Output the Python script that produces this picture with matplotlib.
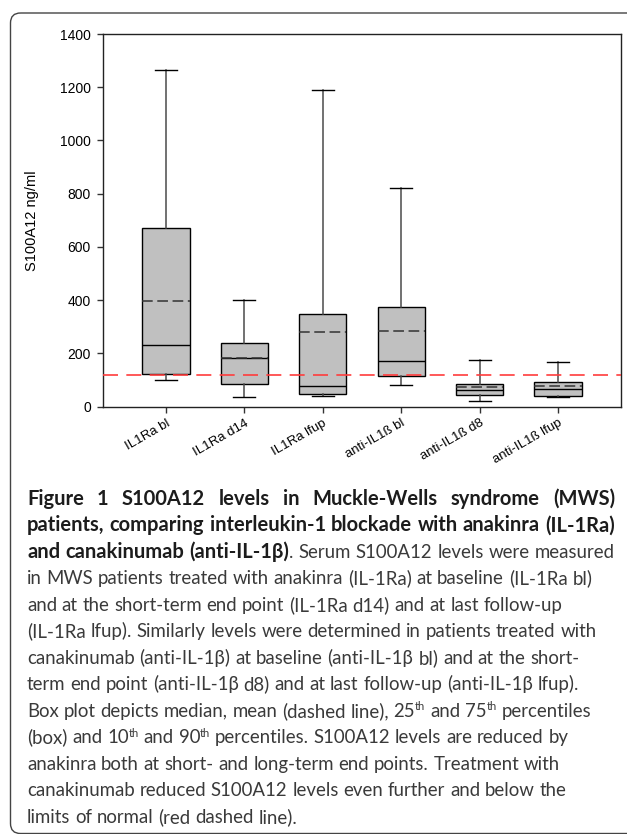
import matplotlib
matplotlib.use('Agg')
import matplotlib.pyplot as plt
import matplotlib.transforms as mtransforms
from matplotlib.patches import FancyBboxPatch

# Box plot values (ng/ml)
groups = ['IL1Ra bl', 'IL1Ra d14', 'IL1Ra lfup',
          'anti-IL1ß bl', 'anti-IL1ß d8', 'anti-IL1ß lfup']
p10 = [101, 36, 40, 81, 21, 35]
p25 = [121, 84, 48, 115, 44, 41]
median = [230, 183, 78, 170, 64, 66]
mean = [398, 183, 280, 284, 73, 77]
p75 = [670, 240, 350, 373, 84, 92]
p90 = [1265, 400, 1189, 820, 174, 168]
normal_limit = 120
y_ticks = [0, 200, 400, 600, 800, 1000, 1200, 1400]

# Caption, one entry per printed line: (text, style) with
# 'b' bold, 'r' regular, 's' superscript
caption = [
    [("Figure 1 S100A12 levels in Muckle-Wells syndrome (MWS)", 'b')],
    [("patients, comparing interleukin-1 blockade with anakinra (IL-1Ra)", 'b')],
    [("and canakinumab (anti-IL-1β)", 'b'),
     (". Serum S100A12 levels were measured", 'r')],
    [("in MWS patients treated with anakinra (IL-1Ra) at baseline (IL-1Ra bl)", 'r')],
    [("and at the short-term end point (IL-1Ra d14) and at last follow-up", 'r')],
    [("(IL-1Ra lfup). Similarly levels were determined in patients treated with", 'r')],
    [("canakinumab (anti-IL-1β) at baseline (anti-IL-1β bl) and at the short-", 'r')],
    [("term end point (anti-IL-1β d8) and at last follow-up (anti-IL-1β lfup).", 'r')],
    [("Box plot depicts median, mean (dashed line), 25", 'r'), ("th", 's'),
     (" and 75", 'r'), ("th", 's'), (" percentiles", 'r')],
    [("(box) and 10", 'r'), ("th", 's'), (" and 90", 'r'), ("th", 's'),
     (" percentiles. S100A12 levels are reduced by", 'r')],
    [("anakinra both at short- and long-term end points. Treatment with", 'r')],
    [("canakinumab reduced S100A12 levels even further and below the", 'r')],
    [("limits of normal (red dashed line).", 'r')],
]
justified = [True, True, True] + [False] * 10

W, H = 627, 834
fig = plt.figure(figsize=(W / 100, H / 100), dpi=100)
# pixel coordinates, origin top-left
px = mtransforms.Affine2D().scale(1 / W, -1 / H).translate(0, 1) + fig.transFigure

# outer frame (rounded, cut by the right and bottom image edges)
frame = FancyBboxPatch((10.5, 13), 640, 820.5, boxstyle="round,pad=0,rounding_size=10",
                       transform=px, fill=False, edgecolor='#444444', linewidth=1.0)
fig.add_artist(frame)

# ---- box plot ----
ax = fig.add_axes([103.3 / W, 1 - 406.7 / H, 517.4 / W, 372.7 / H])
stats = []
for i in range(len(groups)):
    stats.append({'label': groups[i], 'whislo': p10[i], 'q1': p25[i],
                  'med': median[i], 'mean': mean[i], 'q3': p75[i],
                  'whishi': p90[i], 'fliers': []})

ax.axhline(normal_limit, color='#ff3c3c', linestyle=(0, (9, 5)), linewidth=1.2, zorder=3)

ax.bxp(stats, positions=range(1, len(groups) + 1), widths=0.6, capwidths=0.28,
       patch_artist=True, showmeans=True, meanline=True, showfliers=False,
       boxprops=dict(facecolor='#c0c0c0', edgecolor='black', linewidth=1.0),
       whiskerprops=dict(color='#4a4a4a', linewidth=1.1),
       capprops=dict(color='black', linewidth=1.0),
       medianprops=dict(color='black', linewidth=1.0),
       meanprops=dict(color='#333333', linestyle=(0, (7, 3)), linewidth=1.1))

ax.set_xlim(0.2, 6.8)
ax.set_ylim(0, 1400)
ax.set_yticks(y_ticks)
ax.set_yticklabels([str(v) for v in y_ticks], fontfamily='Liberation Sans', fontsize=10)
ax.set_xticks(range(1, len(groups) + 1))
ax.set_xticklabels(groups, fontfamily='Liberation Sans', fontsize=9.5,
                   rotation=30, ha='right', va='top', rotation_mode='anchor')
shift = mtransforms.ScaledTranslation(5 / 72, -4 / 72, fig.dpi_scale_trans)
for lab in ax.get_xticklabels():
    lab.set_transform(lab.get_transform() + shift)
ax.tick_params(axis='both', direction='out', length=4, width=1.0, color='#333333')
ax.tick_params(axis='y', pad=5)
for sp in ax.spines.values():
    sp.set_linewidth(1.0)
    sp.set_color('#222222')
ax.set_ylabel('S100A12 ng/ml', fontfamily='Liberation Sans', fontsize=10.5)
ax.yaxis.set_label_coords(-0.125, 0.5)

# ---- caption ----
renderer = fig.canvas.get_renderer()
styles = {
    'r': dict(family='Lato', weight='normal', color='#3a3a3a'),
    'b': dict(family='Lato', weight='bold', color='#1c1c1c'),
    's': dict(family='Lato', weight='normal', color='#3a3a3a'),
}
sizes = {'r': 12, 'b': 12, 's': 7.2}


def text_width(s, style, size):
    t = fig.text(0, 0, s, fontsize=size, **styles[style])
    w = t.get_window_extent(renderer=renderer).width
    t.remove()
    return w


# fit sizes so reference lines span the same widths as in the print
fs = 12 * 563 / text_width(caption[3][0][0], 'r', 12)
fb = 12 * 582 / text_width(caption[1][0][0], 'b', 12)
sizes = {'r': fs, 'b': fb, 's': fs * 0.6}

x_left, x_right = 27, 615
baseline0, line_step = 505, 26.48

for n, segs in enumerate(caption):
    y = baseline0 + n * line_step
    tokens = []
    for text, style in segs:
        for i, piece in enumerate(text.split(' ')):
            if piece:
                tokens.append((piece, style, i > 0))
    widths = [text_width(p, st, sizes[st]) for p, st, _ in tokens]
    gap = text_width('a a', 'r', fs) - text_width('aa', 'r', fs)
    n_gaps = sum(1 for k, tok in enumerate(tokens) if tok[2] and k > 0)
    if justified[n] and n_gaps:
        gap = max((x_right - x_left - sum(widths)) / n_gaps, gap * 0.6)
    x = x_left
    for k, (tok, w) in enumerate(zip(tokens, widths)):
        piece, style, sp = tok
        if sp and k > 0:
            x += gap
        dy = -6.5 if style == 's' else 0
        fig.text(x, y + dy, piece, transform=px, ha='left', va='baseline',
                 fontsize=sizes[style], **styles[style])
        x += w

fig.savefig('out.png', dpi=100)
plt.close(fig)
